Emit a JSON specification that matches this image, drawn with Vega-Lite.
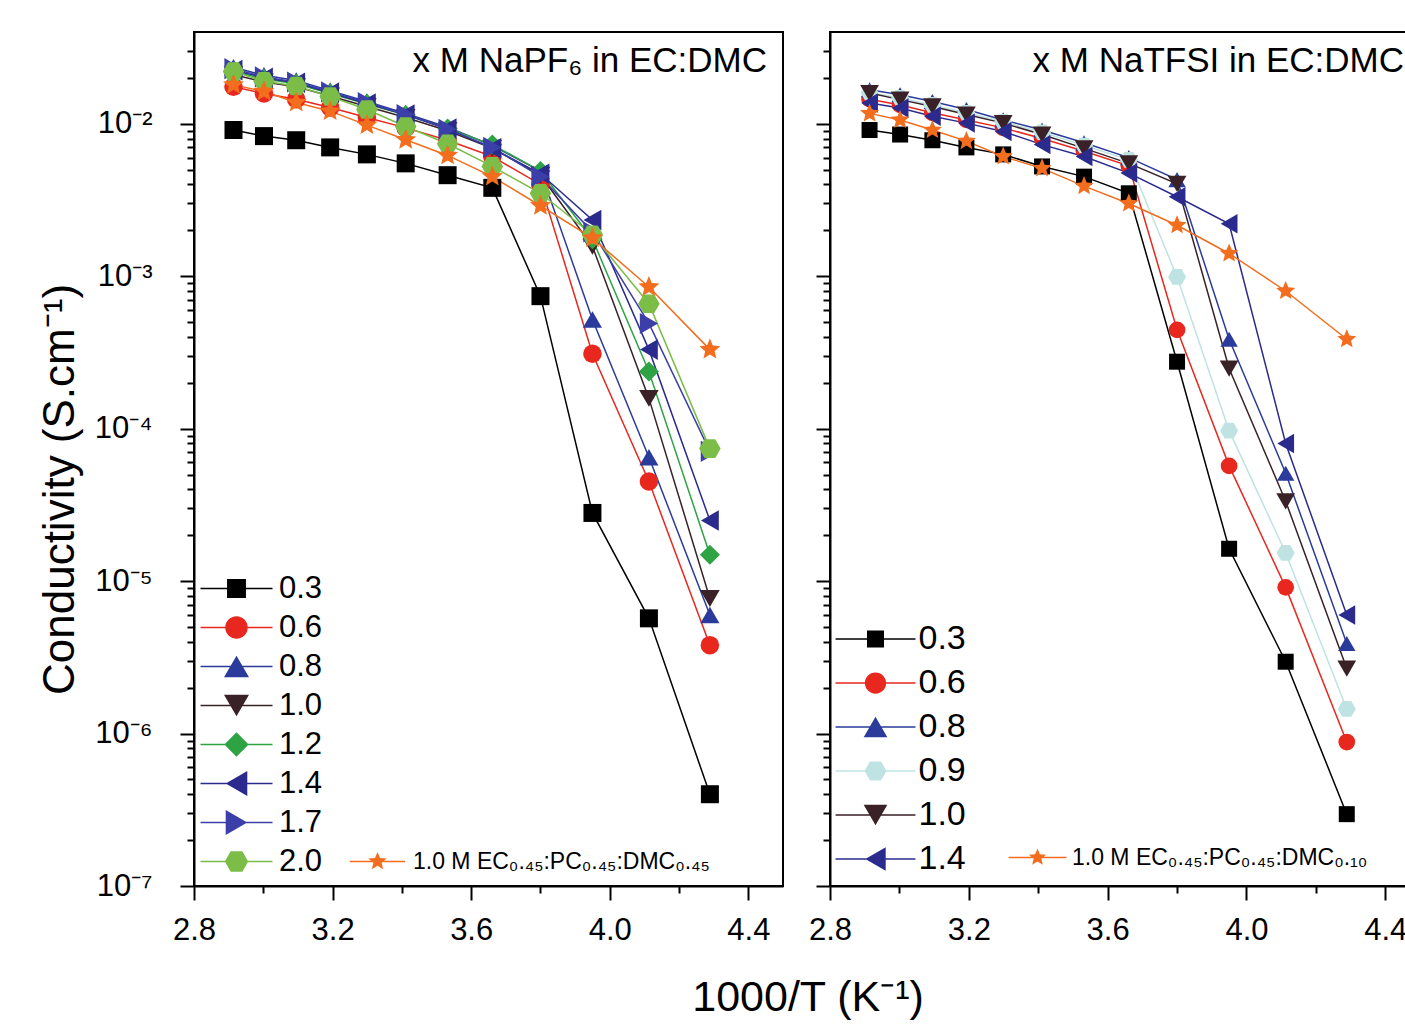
{
  "$schema": "https://vega.github.io/schema/vega-lite/v6.json",
  "background": "white",
  "padding": {"left": 37, "top": 31, "right": 0, "bottom": 5},
  "bounds": "flush",
  "spacing": 47,
  "title": {"text": "1000/T (K⁻¹)", "orient": "bottom", "anchor": "middle", "fontSize": 43, "fontWeight": "normal", "offset": 31, "dx": 79, "color": "black", "font": "Liberation Sans"},
  "config": {
    "font": "Liberation Sans",
    "view": {"stroke": "black", "strokeWidth": 2},
    "axis": {"domainColor": "black", "domainWidth": 2, "tickColor": "black", "tickWidth": 2, "labelColor": "black", "titleColor": "black", "labelFont": "Liberation Sans", "titleFont": "Liberation Sans", "titleFontWeight": "normal", "grid": false, "labelOverlap": false, "labelFlush": false, "labelBound": false},
    "legend": {"labelColor": "black", "labelFont": "Liberation Sans", "labelLimit": 500},
    "title": {"color": "black", "font": "Liberation Sans", "fontWeight": "normal"}
  },
  "datasets": {
    "napf6": [
      {"inv_T": 2.914, "sigma": 9.1e-3, "series": "0.3"}, {"inv_T": 3.002, "sigma": 8.3e-3, "series": "0.3"}, {"inv_T": 3.095, "sigma": 7.8e-3, "series": "0.3"}, {"inv_T": 3.193, "sigma": 7.0e-3, "series": "0.3"}, {"inv_T": 3.299, "sigma": 6.3e-3, "series": "0.3"}, {"inv_T": 3.411, "sigma": 5.5e-3, "series": "0.3"}, {"inv_T": 3.532, "sigma": 4.6e-3, "series": "0.3"}, {"inv_T": 3.661, "sigma": 3.8e-3, "series": "0.3"}, {"inv_T": 3.800, "sigma": 7.4e-4, "series": "0.3"}, {"inv_T": 3.950, "sigma": 2.8e-5, "series": "0.3"}, {"inv_T": 4.113, "sigma": 5.7e-6, "series": "0.3"}, {"inv_T": 4.289, "sigma": 4.0e-7, "series": "0.3"},
      {"inv_T": 2.914, "sigma": 1.75e-2, "series": "0.6"}, {"inv_T": 3.002, "sigma": 1.58e-2, "series": "0.6"}, {"inv_T": 3.095, "sigma": 1.45e-2, "series": "0.6"}, {"inv_T": 3.193, "sigma": 1.28e-2, "series": "0.6"}, {"inv_T": 3.299, "sigma": 1.10e-2, "series": "0.6"}, {"inv_T": 3.411, "sigma": 9.4e-3, "series": "0.6"}, {"inv_T": 3.532, "sigma": 7.8e-3, "series": "0.6"}, {"inv_T": 3.661, "sigma": 6.1e-3, "series": "0.6"}, {"inv_T": 3.800, "sigma": 4.0e-3, "series": "0.6"}, {"inv_T": 3.950, "sigma": 3.1e-4, "series": "0.6"}, {"inv_T": 4.113, "sigma": 4.5e-5, "series": "0.6"}, {"inv_T": 4.289, "sigma": 3.8e-6, "series": "0.6"},
      {"inv_T": 2.914, "sigma": 2.35e-2, "series": "0.8"}, {"inv_T": 3.002, "sigma": 2.08e-2, "series": "0.8"}, {"inv_T": 3.095, "sigma": 1.92e-2, "series": "0.8"}, {"inv_T": 3.193, "sigma": 1.65e-2, "series": "0.8"}, {"inv_T": 3.299, "sigma": 1.40e-2, "series": "0.8"}, {"inv_T": 3.411, "sigma": 1.17e-2, "series": "0.8"}, {"inv_T": 3.532, "sigma": 9.5e-3, "series": "0.8"}, {"inv_T": 3.661, "sigma": 7.2e-3, "series": "0.8"}, {"inv_T": 3.800, "sigma": 4.9e-3, "series": "0.8"}, {"inv_T": 3.950, "sigma": 5.2e-4, "series": "0.8"}, {"inv_T": 4.113, "sigma": 6.5e-5, "series": "0.8"}, {"inv_T": 4.289, "sigma": 6.0e-6, "series": "0.8"},
      {"inv_T": 2.914, "sigma": 2.10e-2, "series": "1.0"}, {"inv_T": 3.002, "sigma": 1.88e-2, "series": "1.0"}, {"inv_T": 3.095, "sigma": 1.75e-2, "series": "1.0"}, {"inv_T": 3.193, "sigma": 1.52e-2, "series": "1.0"}, {"inv_T": 3.299, "sigma": 1.30e-2, "series": "1.0"}, {"inv_T": 3.411, "sigma": 1.10e-2, "series": "1.0"}, {"inv_T": 3.532, "sigma": 9.0e-3, "series": "1.0"}, {"inv_T": 3.661, "sigma": 6.9e-3, "series": "1.0"}, {"inv_T": 3.800, "sigma": 4.6e-3, "series": "1.0"}, {"inv_T": 3.950, "sigma": 1.57e-3, "series": "1.0"}, {"inv_T": 4.113, "sigma": 1.58e-4, "series": "1.0"}, {"inv_T": 4.289, "sigma": 7.7e-6, "series": "1.0"},
      {"inv_T": 2.914, "sigma": 2.20e-2, "series": "1.2"}, {"inv_T": 3.002, "sigma": 1.97e-2, "series": "1.2"}, {"inv_T": 3.095, "sigma": 1.83e-2, "series": "1.2"}, {"inv_T": 3.193, "sigma": 1.58e-2, "series": "1.2"}, {"inv_T": 3.299, "sigma": 1.35e-2, "series": "1.2"}, {"inv_T": 3.411, "sigma": 1.14e-2, "series": "1.2"}, {"inv_T": 3.532, "sigma": 9.3e-3, "series": "1.2"}, {"inv_T": 3.661, "sigma": 7.3e-3, "series": "1.2"}, {"inv_T": 3.800, "sigma": 4.9e-3, "series": "1.2"}, {"inv_T": 3.950, "sigma": 1.75e-3, "series": "1.2"}, {"inv_T": 4.113, "sigma": 2.37e-4, "series": "1.2"}, {"inv_T": 4.289, "sigma": 1.49e-5, "series": "1.2"},
      {"inv_T": 2.914, "sigma": 2.25e-2, "series": "1.4"}, {"inv_T": 3.002, "sigma": 2.00e-2, "series": "1.4"}, {"inv_T": 3.095, "sigma": 1.86e-2, "series": "1.4"}, {"inv_T": 3.193, "sigma": 1.60e-2, "series": "1.4"}, {"inv_T": 3.299, "sigma": 1.36e-2, "series": "1.4"}, {"inv_T": 3.411, "sigma": 1.15e-2, "series": "1.4"}, {"inv_T": 3.532, "sigma": 9.3e-3, "series": "1.4"}, {"inv_T": 3.661, "sigma": 6.9e-3, "series": "1.4"}, {"inv_T": 3.800, "sigma": 4.7e-3, "series": "1.4"}, {"inv_T": 3.950, "sigma": 2.34e-3, "series": "1.4"}, {"inv_T": 4.113, "sigma": 3.3e-4, "series": "1.4"}, {"inv_T": 4.289, "sigma": 2.5e-5, "series": "1.4"},
      {"inv_T": 2.914, "sigma": 2.30e-2, "series": "1.7"}, {"inv_T": 3.002, "sigma": 2.03e-2, "series": "1.7"}, {"inv_T": 3.095, "sigma": 1.88e-2, "series": "1.7"}, {"inv_T": 3.193, "sigma": 1.62e-2, "series": "1.7"}, {"inv_T": 3.299, "sigma": 1.38e-2, "series": "1.7"}, {"inv_T": 3.411, "sigma": 1.15e-2, "series": "1.7"}, {"inv_T": 3.532, "sigma": 9.2e-3, "series": "1.7"}, {"inv_T": 3.661, "sigma": 7.0e-3, "series": "1.7"}, {"inv_T": 3.800, "sigma": 4.5e-3, "series": "1.7"}, {"inv_T": 3.950, "sigma": 1.95e-3, "series": "1.7"}, {"inv_T": 4.113, "sigma": 4.9e-4, "series": "1.7"}, {"inv_T": 4.289, "sigma": 7.1e-5, "series": "1.7"},
      {"inv_T": 2.914, "sigma": 2.20e-2, "series": "2.0"}, {"inv_T": 3.002, "sigma": 1.90e-2, "series": "2.0"}, {"inv_T": 3.095, "sigma": 1.77e-2, "series": "2.0"}, {"inv_T": 3.193, "sigma": 1.51e-2, "series": "2.0"}, {"inv_T": 3.299, "sigma": 1.24e-2, "series": "2.0"}, {"inv_T": 3.411, "sigma": 9.6e-3, "series": "2.0"}, {"inv_T": 3.532, "sigma": 7.4e-3, "series": "2.0"}, {"inv_T": 3.661, "sigma": 5.25e-3, "series": "2.0"}, {"inv_T": 3.800, "sigma": 3.5e-3, "series": "2.0"}, {"inv_T": 3.950, "sigma": 1.87e-3, "series": "2.0"}, {"inv_T": 4.113, "sigma": 6.6e-4, "series": "2.0"}, {"inv_T": 4.289, "sigma": 7.4e-5, "series": "2.0"},
      {"inv_T": 2.914, "sigma": 1.80e-2, "series": "1.0 M EC₀.₄₅:PC₀.₄₅:DMC₀.₄₅"}, {"inv_T": 3.002, "sigma": 1.63e-2, "series": "1.0 M EC₀.₄₅:PC₀.₄₅:DMC₀.₄₅"}, {"inv_T": 3.095, "sigma": 1.38e-2, "series": "1.0 M EC₀.₄₅:PC₀.₄₅:DMC₀.₄₅"}, {"inv_T": 3.193, "sigma": 1.21e-2, "series": "1.0 M EC₀.₄₅:PC₀.₄₅:DMC₀.₄₅"}, {"inv_T": 3.299, "sigma": 9.8e-3, "series": "1.0 M EC₀.₄₅:PC₀.₄₅:DMC₀.₄₅"}, {"inv_T": 3.411, "sigma": 7.85e-3, "series": "1.0 M EC₀.₄₅:PC₀.₄₅:DMC₀.₄₅"}, {"inv_T": 3.532, "sigma": 6.2e-3, "series": "1.0 M EC₀.₄₅:PC₀.₄₅:DMC₀.₄₅"}, {"inv_T": 3.661, "sigma": 4.5e-3, "series": "1.0 M EC₀.₄₅:PC₀.₄₅:DMC₀.₄₅"}, {"inv_T": 3.800, "sigma": 2.9e-3, "series": "1.0 M EC₀.₄₅:PC₀.₄₅:DMC₀.₄₅"}, {"inv_T": 3.950, "sigma": 1.78e-3, "series": "1.0 M EC₀.₄₅:PC₀.₄₅:DMC₀.₄₅"}, {"inv_T": 4.113, "sigma": 8.5e-4, "series": "1.0 M EC₀.₄₅:PC₀.₄₅:DMC₀.₄₅"}, {"inv_T": 4.289, "sigma": 3.3e-4, "series": "1.0 M EC₀.₄₅:PC₀.₄₅:DMC₀.₄₅"}
    ],
    "natfsi": [
      {"inv_T": 2.914, "sigma": 9.1e-3, "series": "0.3"}, {"inv_T": 3.002, "sigma": 8.5e-3, "series": "0.3"}, {"inv_T": 3.095, "sigma": 7.8e-3, "series": "0.3"}, {"inv_T": 3.193, "sigma": 7.0e-3, "series": "0.3"}, {"inv_T": 3.299, "sigma": 6.3e-3, "series": "0.3"}, {"inv_T": 3.411, "sigma": 5.25e-3, "series": "0.3"}, {"inv_T": 3.532, "sigma": 4.5e-3, "series": "0.3"}, {"inv_T": 3.661, "sigma": 3.5e-3, "series": "0.3"}, {"inv_T": 3.800, "sigma": 2.75e-4, "series": "0.3"}, {"inv_T": 3.950, "sigma": 1.63e-5, "series": "0.3"}, {"inv_T": 4.113, "sigma": 2.96e-6, "series": "0.3"}, {"inv_T": 4.289, "sigma": 2.96e-7, "series": "0.3"},
      {"inv_T": 2.914, "sigma": 1.45e-2, "series": "0.6"}, {"inv_T": 3.002, "sigma": 1.33e-2, "series": "0.6"}, {"inv_T": 3.095, "sigma": 1.18e-2, "series": "0.6"}, {"inv_T": 3.193, "sigma": 1.06e-2, "series": "0.6"}, {"inv_T": 3.299, "sigma": 9.4e-3, "series": "0.6"}, {"inv_T": 3.411, "sigma": 8.0e-3, "series": "0.6"}, {"inv_T": 3.532, "sigma": 6.6e-3, "series": "0.6"}, {"inv_T": 3.661, "sigma": 5.3e-3, "series": "0.6"}, {"inv_T": 3.800, "sigma": 4.45e-4, "series": "0.6"}, {"inv_T": 3.950, "sigma": 5.7e-5, "series": "0.6"}, {"inv_T": 4.113, "sigma": 9.1e-6, "series": "0.6"}, {"inv_T": 4.289, "sigma": 8.8e-7, "series": "0.6"},
      {"inv_T": 2.914, "sigma": 1.67e-2, "series": "0.8"}, {"inv_T": 3.002, "sigma": 1.55e-2, "series": "0.8"}, {"inv_T": 3.095, "sigma": 1.40e-2, "series": "0.8"}, {"inv_T": 3.193, "sigma": 1.24e-2, "series": "0.8"}, {"inv_T": 3.299, "sigma": 1.06e-2, "series": "0.8"}, {"inv_T": 3.411, "sigma": 9.1e-3, "series": "0.8"}, {"inv_T": 3.532, "sigma": 7.5e-3, "series": "0.8"}, {"inv_T": 3.661, "sigma": 6.0e-3, "series": "0.8"}, {"inv_T": 3.800, "sigma": 4.3e-3, "series": "0.8"}, {"inv_T": 3.950, "sigma": 3.86e-4, "series": "0.8"}, {"inv_T": 4.113, "sigma": 5.1e-5, "series": "0.8"}, {"inv_T": 4.289, "sigma": 3.9e-6, "series": "0.8"},
      {"inv_T": 2.914, "sigma": 1.60e-2, "series": "0.9"}, {"inv_T": 3.002, "sigma": 1.48e-2, "series": "0.9"}, {"inv_T": 3.095, "sigma": 1.33e-2, "series": "0.9"}, {"inv_T": 3.193, "sigma": 1.18e-2, "series": "0.9"}, {"inv_T": 3.299, "sigma": 1.03e-2, "series": "0.9"}, {"inv_T": 3.411, "sigma": 8.8e-3, "series": "0.9"}, {"inv_T": 3.532, "sigma": 7.2e-3, "series": "0.9"}, {"inv_T": 3.661, "sigma": 5.8e-3, "series": "0.9"}, {"inv_T": 3.800, "sigma": 9.9e-4, "series": "0.9"}, {"inv_T": 3.950, "sigma": 9.7e-5, "series": "0.9"}, {"inv_T": 4.113, "sigma": 1.53e-5, "series": "0.9"}, {"inv_T": 4.289, "sigma": 1.45e-6, "series": "0.9"},
      {"inv_T": 2.914, "sigma": 1.59e-2, "series": "1.0"}, {"inv_T": 3.002, "sigma": 1.44e-2, "series": "1.0"}, {"inv_T": 3.095, "sigma": 1.30e-2, "series": "1.0"}, {"inv_T": 3.193, "sigma": 1.15e-2, "series": "1.0"}, {"inv_T": 3.299, "sigma": 1.01e-2, "series": "1.0"}, {"inv_T": 3.411, "sigma": 8.5e-3, "series": "1.0"}, {"inv_T": 3.532, "sigma": 6.9e-3, "series": "1.0"}, {"inv_T": 3.661, "sigma": 5.5e-3, "series": "1.0"}, {"inv_T": 3.800, "sigma": 4.04e-3, "series": "1.0"}, {"inv_T": 3.950, "sigma": 2.48e-4, "series": "1.0"}, {"inv_T": 4.113, "sigma": 3.34e-5, "series": "1.0"}, {"inv_T": 4.289, "sigma": 2.67e-6, "series": "1.0"},
      {"inv_T": 2.914, "sigma": 1.37e-2, "series": "1.4"}, {"inv_T": 3.002, "sigma": 1.27e-2, "series": "1.4"}, {"inv_T": 3.095, "sigma": 1.12e-2, "series": "1.4"}, {"inv_T": 3.193, "sigma": 1.01e-2, "series": "1.4"}, {"inv_T": 3.299, "sigma": 8.9e-3, "series": "1.4"}, {"inv_T": 3.411, "sigma": 7.3e-3, "series": "1.4"}, {"inv_T": 3.532, "sigma": 6.1e-3, "series": "1.4"}, {"inv_T": 3.661, "sigma": 4.75e-3, "series": "1.4"}, {"inv_T": 3.800, "sigma": 3.32e-3, "series": "1.4"}, {"inv_T": 3.950, "sigma": 2.21e-3, "series": "1.4"}, {"inv_T": 4.113, "sigma": 8.0e-5, "series": "1.4"}, {"inv_T": 4.289, "sigma": 6.0e-6, "series": "1.4"},
      {"inv_T": 2.914, "sigma": 1.17e-2, "series": "1.0 M EC₀.₄₅:PC₀.₄₅:DMC₀.₁₀"}, {"inv_T": 3.002, "sigma": 1.06e-2, "series": "1.0 M EC₀.₄₅:PC₀.₄₅:DMC₀.₁₀"}, {"inv_T": 3.095, "sigma": 9.1e-3, "series": "1.0 M EC₀.₄₅:PC₀.₄₅:DMC₀.₁₀"}, {"inv_T": 3.193, "sigma": 7.7e-3, "series": "1.0 M EC₀.₄₅:PC₀.₄₅:DMC₀.₁₀"}, {"inv_T": 3.299, "sigma": 6.1e-3, "series": "1.0 M EC₀.₄₅:PC₀.₄₅:DMC₀.₁₀"}, {"inv_T": 3.411, "sigma": 5.1e-3, "series": "1.0 M EC₀.₄₅:PC₀.₄₅:DMC₀.₁₀"}, {"inv_T": 3.532, "sigma": 3.9e-3, "series": "1.0 M EC₀.₄₅:PC₀.₄₅:DMC₀.₁₀"}, {"inv_T": 3.661, "sigma": 3.0e-3, "series": "1.0 M EC₀.₄₅:PC₀.₄₅:DMC₀.₁₀"}, {"inv_T": 3.800, "sigma": 2.16e-3, "series": "1.0 M EC₀.₄₅:PC₀.₄₅:DMC₀.₁₀"}, {"inv_T": 3.950, "sigma": 1.41e-3, "series": "1.0 M EC₀.₄₅:PC₀.₄₅:DMC₀.₁₀"}, {"inv_T": 4.113, "sigma": 8.0e-4, "series": "1.0 M EC₀.₄₅:PC₀.₄₅:DMC₀.₁₀"}, {"inv_T": 4.289, "sigma": 3.86e-4, "series": "1.0 M EC₀.₄₅:PC₀.₄₅:DMC₀.₁₀"}
    ]
  },
  "hconcat": [
    {
      "width": 589,
      "height": 854,
      "data": {"name": "napf6"},
      "encoding": {
        "x": {"field": "inv_T", "type": "quantitative", "scale": {"domain": [2.8, 4.5], "nice": false, "zero": false},
          "axis": {"title": null, "values": [2.8, 3.0, 3.2, 3.4, 3.6, 3.8, 4.0, 4.2, 4.4], "labelExpr": "round(datum.value*10) % 4 == 0 ? format(datum.value, '.1f') : ''", "tickSize": {"condition": {"test": "round(datum.value*10) % 4 == 0", "value": 14}, "value": 7}, "labelFontSize": 31, "labelPadding": 15}},
        "y": {"field": "sigma", "type": "quantitative", "scale": {"type": "log", "domain": [1e-7, 0.04], "nice": false},
          "axis": {"title": "Conductivity (S.cm⁻¹)", "titleFontSize": 44, "titlePadding": 12, "titleY": 457, "labelFontSize": 31, "labelPadding": 28,
            "values": [1e-7, 2e-7, 3e-7, 4e-7, 5e-7, 6e-7, 7e-7, 8e-7, 9e-7, 1e-6, 2e-6, 3e-6, 4e-6, 5e-6, 6e-6, 7e-6, 8e-6, 9e-6, 1e-5, 2e-5, 3e-5, 4e-5, 5e-5, 6e-5, 7e-5, 8e-5, 9e-5, 1e-4, 2e-4, 3e-4, 4e-4, 5e-4, 6e-4, 7e-4, 8e-4, 9e-4, 1e-3, 2e-3, 3e-3, 4e-3, 5e-3, 6e-3, 7e-3, 8e-3, 9e-3, 1e-2, 2e-2, 3e-2],
            "labelExpr": "abs(log(datum.value)/LN10 - round(log(datum.value)/LN10)) < 0.001 ? '10⁻' + ['⁰','¹','²','³','⁴','⁵','⁶','⁷'][-round(log(datum.value)/LN10)] : ''",
            "tickSize": {"condition": {"test": "abs(log(datum.value)/LN10 - round(log(datum.value)/LN10)) < 0.001", "value": 14}, "value": 7}}}
      },
      "resolve": {"scale": {"color": "independent", "shape": "independent", "size": "independent"}},
      "layer": [
        {
          "mark": {"type": "line", "strokeWidth": 1.5},
          "encoding": {
            "color": {"field": "series", "type": "nominal", "legend": null, "scale": {"domain": ["0.3", "0.6", "0.8", "1.0", "1.2", "1.4", "1.7", "2.0", "1.0 M EC₀.₄₅:PC₀.₄₅:DMC₀.₄₅"], "range": ["#000000", "#e8281e", "#2b3b9b", "#3a2127", "#2ea344", "#2b2b8e", "#3c3fa8", "#7bbd47", "#f26d1d"]}}
          }
        },
        {
          "mark": {"type": "point", "filled": true, "opacity": 1, "strokeWidth": 0},
          "encoding": {
            "color": {"field": "series", "type": "nominal", "legend": null, "scale": {"domain": ["0.3", "0.6", "0.8", "1.0", "1.2", "1.4", "1.7", "2.0", "1.0 M EC₀.₄₅:PC₀.₄₅:DMC₀.₄₅"], "range": ["#000000", "#e8281e", "#2b3b9b", "#3a2127", "#2ea344", "#2b2b8e", "#3c3fa8", "#7bbd47", "#f26d1d"]}},
            "shape": {"field": "series", "type": "nominal", "legend": null, "scale": {"domain": ["0.3", "0.6", "0.8", "1.0", "1.2", "1.4", "1.7", "2.0", "1.0 M EC₀.₄₅:PC₀.₄₅:DMC₀.₄₅"], "range": ["square", "circle", "triangle-up", "triangle-down", "diamond", "triangle-left", "triangle-right", "M-1,0L-0.5,-0.866L0.5,-0.866L1,0L0.5,0.866L-0.5,0.866Z", "M0,-1L0.264,-0.364L0.951,-0.309L0.428,0.139L0.588,0.809L0,0.45L-0.588,0.809L-0.428,0.139L-0.951,-0.309L-0.264,-0.364Z"]}},
            "size": {"field": "series", "type": "nominal", "legend": null, "scale": {"domain": ["0.3", "0.6", "0.8", "1.0", "1.2", "1.4", "1.7", "2.0", "1.0 M EC₀.₄₅:PC₀.₄₅:DMC₀.₄₅"], "range": [324, 484, 576, 576, 529, 576, 576, 576, 676]}}
          }
        },
        {
          "transform": [{"filter": "false"}],
          "mark": {"type": "point", "filled": true, "opacity": 1, "strokeWidth": 0},
          "encoding": {
            "color": {"field": "series", "type": "nominal",
              "scale": {"domain": ["0.3", "0.6", "0.8", "1.0", "1.2", "1.4", "1.7", "2.0"], "range": ["#000000", "#e8281e", "#2b3b9b", "#3a2127", "#2ea344", "#2b2b8e", "#3c3fa8", "#7bbd47"]},
              "legend": {"orient": "none", "legendX": 8, "legendY": 541, "direction": "vertical", "title": null, "padding": 0, "labelFontSize": 31, "symbolSize": 324, "symbolStrokeWidth": 0, "symbolOffset": 19, "labelOffset": 27, "rowPadding": 7}},
            "shape": {"field": "series", "type": "nominal",
              "scale": {"domain": ["0.3", "0.6", "0.8", "1.0", "1.2", "1.4", "1.7", "2.0"], "range": [
                "M-4,-0.09H4V0.09H-4ZM-1.05,-1.05H1.05V1.05H-1.05Z",
                "M-4,-0.09H4V0.09H-4ZM-1.25,0A1.25,1.25,0,1,1,1.25,0A1.25,1.25,0,1,1,-1.25,0Z",
                "M-4,-0.09H4V0.09H-4ZM0,-1.2L1.39,1.2L-1.39,1.2Z",
                "M-4,-0.09H4V0.09H-4ZM0,1.2L-1.39,-1.2L1.39,-1.2Z",
                "M-4,-0.09H4V0.09H-4ZM0,-1.35L1.35,0L0,1.35L-1.35,0Z",
                "M-4,-0.09H4V0.09H-4ZM-1.2,0L1.2,-1.39L1.2,1.39Z",
                "M-4,-0.09H4V0.09H-4ZM1.2,0L-1.2,1.39L-1.2,-1.39Z",
                "M-4,-0.09H4V0.09H-4ZM-1.3,0L-0.65,-1.126L0.65,-1.126L1.3,0L0.65,1.126L-0.65,1.126Z"]},
              "legend": {"orient": "none", "legendX": 8, "legendY": 541, "direction": "vertical", "title": null, "padding": 0, "labelFontSize": 31, "symbolSize": 324, "symbolStrokeWidth": 0, "symbolOffset": 19, "labelOffset": 27, "rowPadding": 7}}
          }
        },
        {
          "transform": [{"filter": "false"}],
          "mark": {"type": "point", "filled": true, "opacity": 1, "strokeWidth": 0},
          "encoding": {
            "color": {"field": "series", "type": "nominal",
              "scale": {"domain": ["1.0 M EC₀.₄₅:PC₀.₄₅:DMC₀.₄₅"], "range": ["#f26d1d"]},
              "legend": {"orient": "none", "legendX": 158, "legendY": 818, "direction": "vertical", "title": null, "padding": 0, "labelFontSize": 23, "symbolSize": 144, "symbolStrokeWidth": 0, "symbolOffset": 14, "labelOffset": 24}},
            "shape": {"field": "series", "type": "nominal",
              "scale": {"domain": ["1.0 M EC₀.₄₅:PC₀.₄₅:DMC₀.₄₅"], "range": ["M-4.6,-0.13H4.6V0.13H-4.6ZM0,-1.6L0.422,-0.582L1.522,-0.494L0.685,0.222L0.941,1.294L0,0.72L-0.941,1.294L-0.685,0.222L-1.522,-0.494L-0.422,-0.582Z"]},
              "legend": {"orient": "none", "legendX": 158, "legendY": 818, "direction": "vertical", "title": null, "padding": 0, "labelFontSize": 23, "symbolSize": 144, "symbolStrokeWidth": 0, "symbolOffset": 14, "labelOffset": 24}}
          }
        },
        {
          "data": {"values": [{}]},
          "mark": {"type": "text", "text": "x M NaPF₆ in EC:DMC", "align": "right", "baseline": "alphabetic", "fontSize": 35, "dx": -16, "dy": 40, "color": "black", "font": "Liberation Sans"},
          "encoding": {"x": {"value": "width"}, "y": {"value": 0}}
        }
      ]
    },
    {
      "width": 590,
      "height": 854,
      "data": {"name": "natfsi"},
      "encoding": {
        "x": {"field": "inv_T", "type": "quantitative", "scale": {"domain": [2.8, 4.5], "nice": false, "zero": false},
          "axis": {"title": null, "values": [2.8, 3.0, 3.2, 3.4, 3.6, 3.8, 4.0, 4.2, 4.4], "labelExpr": "round(datum.value*10) % 4 == 0 ? format(datum.value, '.1f') : ''", "tickSize": {"condition": {"test": "round(datum.value*10) % 4 == 0", "value": 14}, "value": 7}, "labelFontSize": 31, "labelPadding": 15}},
        "y": {"field": "sigma", "type": "quantitative", "scale": {"type": "log", "domain": [1e-7, 0.04], "nice": false},
          "axis": {"title": null, "labels": false,
            "values": [1e-7, 2e-7, 3e-7, 4e-7, 5e-7, 6e-7, 7e-7, 8e-7, 9e-7, 1e-6, 2e-6, 3e-6, 4e-6, 5e-6, 6e-6, 7e-6, 8e-6, 9e-6, 1e-5, 2e-5, 3e-5, 4e-5, 5e-5, 6e-5, 7e-5, 8e-5, 9e-5, 1e-4, 2e-4, 3e-4, 4e-4, 5e-4, 6e-4, 7e-4, 8e-4, 9e-4, 1e-3, 2e-3, 3e-3, 4e-3, 5e-3, 6e-3, 7e-3, 8e-3, 9e-3, 1e-2, 2e-2, 3e-2],
            "tickSize": {"condition": {"test": "abs(log(datum.value)/LN10 - round(log(datum.value)/LN10)) < 0.001", "value": 14}, "value": 7}}}
      },
      "resolve": {"scale": {"color": "independent", "shape": "independent", "size": "independent"}},
      "layer": [
        {
          "mark": {"type": "line", "strokeWidth": 1.5},
          "encoding": {
            "color": {"field": "series", "type": "nominal", "legend": null, "scale": {"domain": ["0.3", "0.6", "0.8", "0.9", "1.0", "1.4", "1.0 M EC₀.₄₅:PC₀.₄₅:DMC₀.₁₀"], "range": ["#000000", "#e8281e", "#2b3b9b", "#bfe3e2", "#3a2127", "#2b2b8e", "#f26d1d"]}}
          }
        },
        {
          "mark": {"type": "point", "filled": true, "opacity": 1, "strokeWidth": 0},
          "encoding": {
            "color": {"field": "series", "type": "nominal", "legend": null, "scale": {"domain": ["0.3", "0.6", "0.8", "0.9", "1.0", "1.4", "1.0 M EC₀.₄₅:PC₀.₄₅:DMC₀.₁₀"], "range": ["#000000", "#e8281e", "#2b3b9b", "#bfe3e2", "#3a2127", "#2b2b8e", "#f26d1d"]}},
            "shape": {"field": "series", "type": "nominal", "legend": null, "scale": {"domain": ["0.3", "0.6", "0.8", "0.9", "1.0", "1.4", "1.0 M EC₀.₄₅:PC₀.₄₅:DMC₀.₁₀"], "range": ["square", "circle", "triangle-up", "M-1,0L-0.5,-0.866L0.5,-0.866L1,0L0.5,0.866L-0.5,0.866Z", "triangle-down", "triangle-left", "M0,-1L0.264,-0.364L0.951,-0.309L0.428,0.139L0.588,0.809L0,0.45L-0.588,0.809L-0.428,0.139L-0.951,-0.309L-0.264,-0.364Z"]}},
            "size": {"field": "series", "type": "nominal", "legend": null, "scale": {"domain": ["0.3", "0.6", "0.8", "0.9", "1.0", "1.4", "1.0 M EC₀.₄₅:PC₀.₄₅:DMC₀.₁₀"], "range": [256, 400, 529, 441, 529, 529, 576]}}
          }
        },
        {
          "transform": [{"filter": "false"}],
          "mark": {"type": "point", "filled": true, "opacity": 1, "strokeWidth": 0},
          "encoding": {
            "color": {"field": "series", "type": "nominal",
              "scale": {"domain": ["0.3", "0.6", "0.8", "0.9", "1.0", "1.4"], "range": ["#000000", "#e8281e", "#2b3b9b", "#bfe3e2", "#3a2127", "#2b2b8e"]},
              "legend": {"orient": "none", "legendX": 7, "legendY": 590, "direction": "vertical", "title": null, "padding": 0, "labelFontSize": 34, "symbolSize": 289, "symbolStrokeWidth": 0, "symbolOffset": 21.5, "labelOffset": 26, "rowPadding": 10}},
            "shape": {"field": "series", "type": "nominal",
              "scale": {"domain": ["0.3", "0.6", "0.8", "0.9", "1.0", "1.4"], "range": [
                "M-4.7,-0.09H4.7V0.09H-4.7ZM-1,-1H1V1H-1Z",
                "M-4.7,-0.09H4.7V0.09H-4.7ZM-1.25,0A1.25,1.25,0,1,1,1.25,0A1.25,1.25,0,1,1,-1.25,0Z",
                "M-4.7,-0.09H4.7V0.09H-4.7ZM0,-1.2L1.39,1.2L-1.39,1.2Z",
                "M-4.7,-0.09H4.7V0.09H-4.7ZM-1.3,0L-0.65,-1.126L0.65,-1.126L1.3,0L0.65,1.126L-0.65,1.126Z",
                "M-4.7,-0.09H4.7V0.09H-4.7ZM0,1.2L-1.39,-1.2L1.39,-1.2Z",
                "M-4.7,-0.09H4.7V0.09H-4.7ZM-1.2,0L1.2,-1.39L1.2,1.39Z"]},
              "legend": {"orient": "none", "legendX": 7, "legendY": 590, "direction": "vertical", "title": null, "padding": 0, "labelFontSize": 34, "symbolSize": 289, "symbolStrokeWidth": 0, "symbolOffset": 21.5, "labelOffset": 26, "rowPadding": 10}}
          }
        },
        {
          "transform": [{"filter": "false"}],
          "mark": {"type": "point", "filled": true, "opacity": 1, "strokeWidth": 0},
          "encoding": {
            "color": {"field": "series", "type": "nominal",
              "scale": {"domain": ["1.0 M EC₀.₄₅:PC₀.₄₅:DMC₀.₁₀"], "range": ["#f26d1d"]},
              "legend": {"orient": "none", "legendX": 179, "legendY": 814, "direction": "vertical", "title": null, "padding": 0, "labelFontSize": 23, "symbolSize": 144, "symbolStrokeWidth": 0, "symbolOffset": 17, "labelOffset": 23}},
            "shape": {"field": "series", "type": "nominal",
              "scale": {"domain": ["1.0 M EC₀.₄₅:PC₀.₄₅:DMC₀.₁₀"], "range": ["M-4.83,-0.13H4.83V0.13H-4.83ZM0,-1.5L0.396,-0.546L1.427,-0.464L0.642,0.209L0.882,1.214L0,0.675L-0.882,1.214L-0.642,0.209L-1.427,-0.464L-0.396,-0.546Z"]},
              "legend": {"orient": "none", "legendX": 179, "legendY": 814, "direction": "vertical", "title": null, "padding": 0, "labelFontSize": 23, "symbolSize": 144, "symbolStrokeWidth": 0, "symbolOffset": 17, "labelOffset": 23}}
          }
        },
        {
          "data": {"values": [{}]},
          "mark": {"type": "text", "text": "x M NaTFSI in EC:DMC", "align": "right", "baseline": "alphabetic", "fontSize": 35, "dx": -16, "dy": 40, "color": "black", "font": "Liberation Sans"},
          "encoding": {"x": {"value": "width"}, "y": {"value": 0}}
        }
      ]
    }
  ]
}
